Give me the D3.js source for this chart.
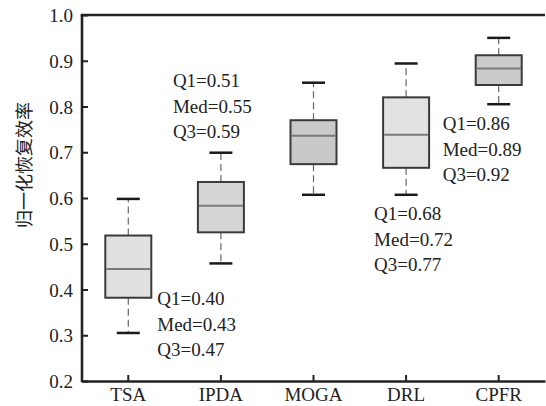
<!DOCTYPE html>
<html><head><meta charset="utf-8">
<script src="https://cdn.jsdelivr.net/npm/d3@7"></script>
<style>body{margin:0;background:#fff}</style>
</head><body>
<svg id="c" width="546" height="406"></svg>
<script>
const categories = ["TSA","IPDA","MOGA","DRL","CPFR"];
const whiskerLow = [0.305,0.457,0.607,0.607,0.805];
const q1 = [0.382,0.525,0.674,0.666,0.847];
const median = [0.445,0.583,0.736,0.738,0.883];
const q3 = [0.518,0.635,0.770,0.820,0.912];
const whiskerHigh = [0.598,0.699,0.852,0.894,0.950];
const boxFill = ["#e0e0e0","#d6d6d6","#c9c9c9","#e2e2e2","#cbcbcb"];
const yTicks = [0.2,0.3,0.4,0.5,0.6,0.7,0.8,0.9,1.0];
const annotations = [
  {cat:"TSA", lines:["Q1=0.40","Med=0.43","Q3=0.47"]},
  {cat:"IPDA", lines:["Q1=0.51","Med=0.55","Q3=0.59"]},
  {cat:"DRL", lines:["Q1=0.68","Med=0.72","Q3=0.77"]},
  {cat:"CPFR", lines:["Q1=0.86","Med=0.89","Q3=0.92"]}
];
const yLabel = "归一化恢复效率";

const svg = d3.select("#c");
const mLeft=82, mRight=545, mTop=15, mBottom=381;
const x = d3.scaleBand().domain(categories).range([mLeft,mRight]);
const y = d3.scaleLinear().domain([0.2,1.0]).range([mBottom,mTop]);
const serif = "'Liberation Serif','Times New Roman',serif";

// boxes
const data = categories.map((c,i)=>({c,lo:whiskerLow[i],q1:q1[i],med:median[i],q3:q3[i],hi:whiskerHigh[i],fill:boxFill[i]}));
const g = svg.append("g");
const bw = 46, cw = 23;
data.forEach(d=>{
  const cx = x(d.c)+x.bandwidth()/2;
  g.append("line").attr("x1",cx).attr("x2",cx).attr("y1",y(d.q3)).attr("y2",y(d.hi))
    .attr("stroke","#666").attr("stroke-width",1.2).attr("stroke-dasharray","7,4");
  g.append("line").attr("x1",cx).attr("x2",cx).attr("y1",y(d.q1)).attr("y2",y(d.lo))
    .attr("stroke","#666").attr("stroke-width",1.2).attr("stroke-dasharray","7,4");
  g.append("line").attr("x1",cx-cw/2).attr("x2",cx+cw/2).attr("y1",y(d.hi)).attr("y2",y(d.hi))
    .attr("stroke","#1a1a1a").attr("stroke-width",2.5);
  g.append("line").attr("x1",cx-cw/2).attr("x2",cx+cw/2).attr("y1",y(d.lo)).attr("y2",y(d.lo))
    .attr("stroke","#1a1a1a").attr("stroke-width",2.5);
  g.append("rect").attr("x",cx-bw/2).attr("width",bw).attr("y",y(d.q3)).attr("height",y(d.q1)-y(d.q3))
    .attr("fill",d.fill).attr("stroke","#3a3a3a").attr("stroke-width",2);
  g.append("line").attr("x1",cx-bw/2+1).attr("x2",cx+bw/2-1).attr("y1",y(d.med)).attr("y2",y(d.med))
    .attr("stroke","#7a7a7a").attr("stroke-width",2);
});

// axes
const yAxis = d3.axisLeft(y).tickValues(yTicks).tickFormat(d3.format(".1f")).tickSizeInner(-6).tickSizeOuter(0).tickPadding(9);
const ya = svg.append("g").attr("transform",`translate(${mLeft},0)`).call(yAxis);
const xAxis = d3.axisBottom(x).tickSizeInner(-6).tickSizeOuter(0).tickPadding(7);
const xa = svg.append("g").attr("transform",`translate(0,${mBottom})`).call(xAxis);
[ya,xa].forEach(a=>{
  a.select(".domain").attr("stroke","#222").attr("stroke-width",2.6);
  a.selectAll(".tick line").attr("stroke","#222").attr("stroke-width",2);
  a.selectAll(".tick text").attr("font-family",serif).attr("font-size",19).attr("fill","#222");
});
ya.selectAll(".tick text").attr("dy","0.35em");
xa.selectAll(".tick text").attr("dy","0.71em");
svg.append("line").attr("x1",mLeft-1.3).attr("x2",mRight).attr("y1",mTop).attr("y2",mTop)
  .attr("stroke","#222").attr("stroke-width",2.6);
ya.select(".domain").attr("d",`M0,${mTop}V${mBottom+1.3}`);

// annotations
const annPos = {TSA:{dx:29,y0:305},IPDA:{dx:-48,y0:87},DRL:{dx:-32,y0:220},CPFR:{dx:-56,y0:130}};
annotations.forEach(a=>{
  const cx = x(a.cat)+x.bandwidth()/2;
  const p = annPos[a.cat];
  a.lines.forEach((t,j)=>{
    svg.append("text").attr("x",cx+p.dx).attr("y",p.y0+j*25.5).text(t)
      .attr("font-family",serif).attr("font-size",19).attr("fill","#222");
  });
});

// y label
svg.append("text").attr("transform","translate(31,165) rotate(-90)")
  .attr("text-anchor","middle").attr("font-family","'Noto Sans CJK SC',sans-serif")
  .attr("font-size",18).attr("fill","#222").text(yLabel);
</script>
</body></html>
